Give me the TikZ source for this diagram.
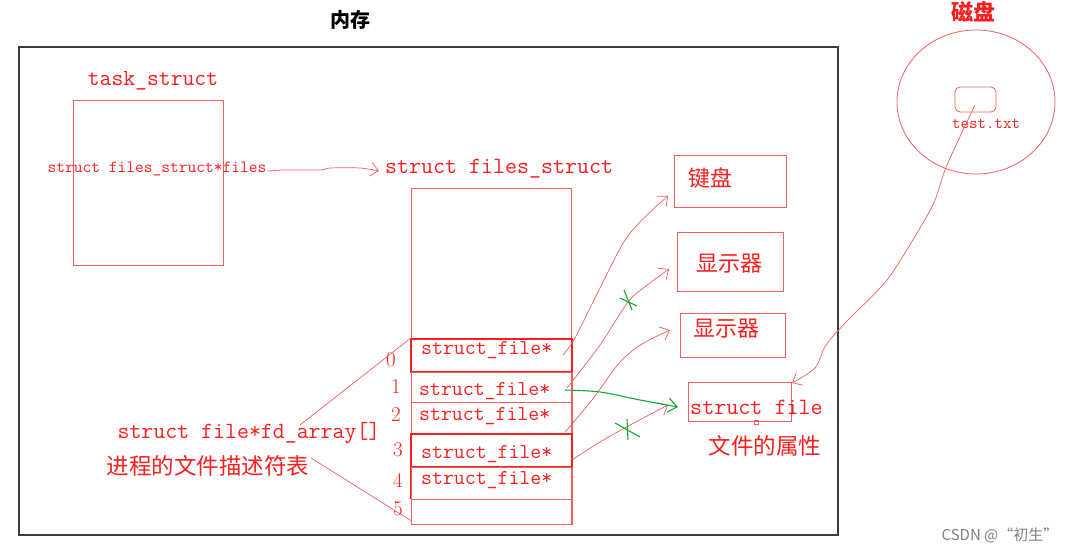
\documentclass[tikz,border=0pt]{standalone}
\usepackage{fontspec}
\newfontfamily\cjk{Noto Sans CJK SC}
\usetikzlibrary{arrows.meta,calc,shapes.geometric}
\definecolor{tred}{RGB}{250,30,30}
\definecolor{lred}{RGB}{240,95,95}
\definecolor{hgreen}{RGB}{20,170,50}
\definecolor{memgray}{RGB}{60,60,60}
\begin{document}
\begin{tikzpicture}[x=1pt,y=-1pt,
  box/.style={draw=lred,line width=0.8pt,inner sep=0pt,rectangle},
  strongbox/.style={draw=tred,line width=1.2pt,inner sep=0pt,rectangle},
  mono/.style={text=tred,font=\ttfamily\addfontfeatures{FakeBold=0.6}\fontsize{#1}{#1}\selectfont,inner sep=0pt},
  zh/.style={text=tred,font=\cjk\fontsize{#1}{#1}\selectfont,inner sep=0pt},
  idx/.style={text=tred,font=\addfontfeatures{FakeBold=0.6}\fontsize{21}{21}\selectfont,inner sep=0pt},
  hand/.style={draw=lred,line width=0.7pt},
  head/.style={-{Straight Barb[length=8pt,width=14pt,line width=0.7pt]}},
  ghand/.style={draw=hgreen,line width=1.1pt}
]
\useasboundingbox (0,0) rectangle (1073,553);
% memory frame
\node[draw=memgray,line width=1.1pt,inner sep=0pt,minimum width=819pt,minimum height=488pt] (mem) at (428.5,291) {};
\node[font=\cjk\bfseries\fontsize{20}{20}\selectfont,inner sep=0pt] (memt) at (350,20) {内存};
% task_struct
\node[mono=23] (tsl) at (153,81) {task\_struct};
\node[box,minimum width=150pt,minimum height=165pt] (task) at (148,182.5) {};
\node[mono=17] (fptr) at (157,169) {struct files\_struct*files};
% files_struct
\node[mono=23.3] (fsl) at (499,169) {struct files\_struct};
\node[box,minimum width=160pt,minimum height=336pt] (fs) at (491,356) {};
\node[strongbox,minimum width=161pt,minimum height=33pt] (r0) at (491.5,355.5) {};
\node[box,minimum width=161pt,minimum height=30pt] (r1) at (491.5,387) {};
\node[box,minimum width=161pt,minimum height=32pt] (r2) at (491.5,418) {};
\node[strongbox,minimum width=161pt,minimum height=33pt] (r3) at (491.5,450.5) {};
\node[box,minimum width=161pt,minimum height=32pt] (r4) at (491.5,483) {};
\node[box,minimum width=161pt,minimum height=25pt] (r5) at (491.5,511.5) {};
\draw[draw=tred,line width=1.2pt] (r4.north west) -- (r4.south west);
\node[mono=21.2,anchor=west] (t0) at (421,350) {struct\_file*};
\node[mono=21.2,anchor=west] (t1) at (419,391) {struct\_file*};
\node[mono=21.2,anchor=west] (t2) at (419,416) {struct\_file*};
\node[mono=21.2,anchor=west] (t3) at (421,454) {struct\_file*};
\node[mono=21.2,anchor=west] (t4) at (421,480) {struct\_file*};
\node[idx] (i0) at (391,360) {0};
\node[idx] (i1) at (396,387) {1};
\node[idx] (i2) at (396,415) {2};
\node[idx] (i3) at (398,450) {3};
\node[idx] (i4) at (398,480) {4};
\node[idx] (i5) at (398,509) {5};
% fd array labels
\node[mono=23.2] (fda) at (249,433) {struct file*fd\_array[]};
\node[zh=22.5] (fdt) at (208,466) {进程的文件描述符表};
\coordinate (fdaE) at (300,425);
\coordinate (fdtE) at (311,458);
\draw[hand] (fdaE) -- (r0.north west);
\draw[hand] (fdtE) -- ($(r5.south west)+(0,-4)$);
% device boxes
\node[box,minimum width=112pt,minimum height=52pt] (kb) at (730,181) {};
\node[zh=22] (kbt) at (710,178) {键盘};
\node[box,minimum width=106pt,minimum height=59pt] (d1) at (730,261.5) {};
\node[zh=22] (d1t) at (729,264) {显示器};
\node[box,minimum width=105pt,minimum height=44pt] (d2) at (732.5,335) {};
\node[zh=22] (d2t) at (726,329) {显示器};
\node[box,minimum width=103pt,minimum height=39pt] (sf) at (739.5,401.5) {};
\node[mono=23.4,anchor=west] (sft) at (690,407) {struct file};
\node[draw=lred,line width=0.6pt,minimum size=4pt,inner sep=0pt] (hdl) at (756,422) {};
\node[zh=22.5] (attr) at (765,446) {文件的属性};
% disk
\node[font=\cjk\bfseries\fontsize{22}{22}\selectfont,text=tred,inner sep=0pt] (diskt) at (973,12) {磁盘};
\node[draw=lred,line width=0.8pt,ellipse,minimum width=158pt,minimum height=144pt,inner sep=0pt] (disk) at (976,102) {};
\node[draw=lred,line width=0.8pt,rounded corners=5pt,minimum width=41pt,minimum height=25pt,inner sep=0pt] (rr) at (975.5,99.5) {};
\node[mono=16.5] (txt) at (986,124) {test.txt};
% coordinates for hand-drawn connectors
\coordinate (a0s) at (563,355);
\coordinate (a0e) at (668,196);
\coordinate (a1s) at (567,388);
\coordinate (a1e) at (669,269);
\coordinate (a2s) at (565,432);
\coordinate (a2e) at (670,330);
\coordinate (a3s) at (572,460);
\coordinate (a3e) at (668,405);
\coordinate (gs) at (565,390);
\coordinate (ge) at (678,407);
\coordinate (ds) at (975,105);
\coordinate (de) at (792,383);
\coordinate (fps) at (268,171);
\coordinate (fpe) at (379,171);
% files pointer arrow
\draw[hand,head] plot[smooth] coordinates {(fps) (285,170) (320,170) (330,168) (360,168) (fpe)};
% struct_file* arrows
\draw[hand,head] plot[smooth] coordinates {(a0s) (575,338) (598,292) (625,240) (648,214) (a0e)};
\draw[hand,head] plot[smooth] coordinates {(a1s) (600,345) (628,302) (646,286) (a1e)};
\draw[hand,head] plot[smooth] coordinates {(a2s) (592,400) (620,362) (642,344) (a2e)};
\draw[hand,head] plot[smooth] coordinates {(a3s) (600,442) (632,424) (a3e)};
\draw[ghand,-{Straight Barb[length=9pt,width=14pt,line width=1.1pt]}] plot[smooth] coordinates {(gs) (600,392) (640,400) (ge)};
% disk arrow
\draw[hand,head] plot[smooth] coordinates {(ds) (947,165) (935,200) (920,228) (887,280) (848,320) (826,345) (815,368) (de)};
% green crosses
\draw[ghand] (620,298) -- (637,306);
\draw[ghand] (624,290) -- (632,310);
\draw[ghand] (615,423) -- (640,437);
\draw[ghand] (627,419) -- (628,440);
% watermark
\node[font=\cjk\fontsize{15}{15}\selectfont,text=gray,inner sep=0pt] (wm) at (1000,535) {CSDN @“初生”};
\end{tikzpicture}
\end{document}
